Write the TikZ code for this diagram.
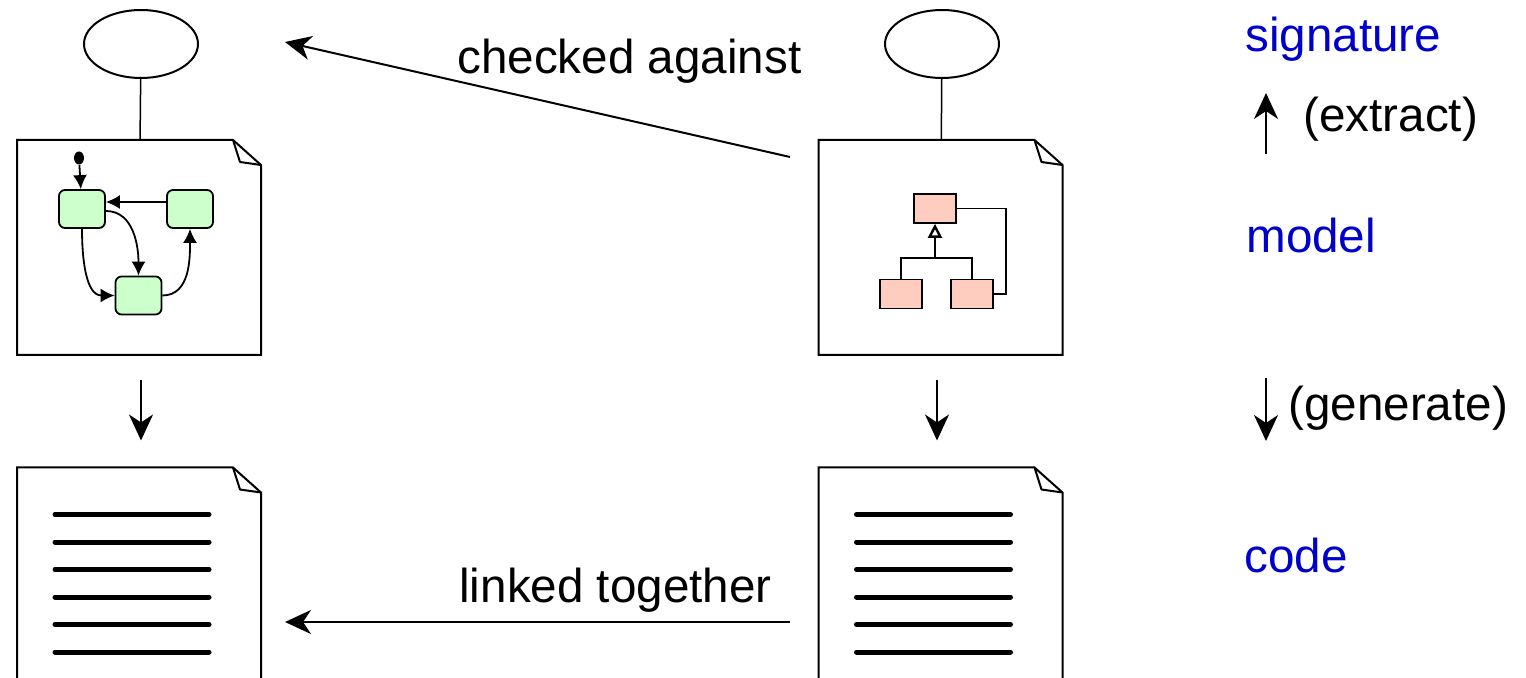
\documentclass[tikz,border=0pt]{standalone}
\usepackage{fontspec}
\setmainfont{Liberation Sans}
\usetikzlibrary{shapes.geometric, arrows.meta, positioning, calc}
\definecolor{stategreen}{RGB}{204,255,204}
\definecolor{classpink}{RGB}{255,204,192}
\definecolor{layerblue}{RGB}{0,0,204}
\tikzstyle{arrow} = [line width=1pt, -{Stealth[length=13pt, width=12pt, inset=4pt]}]
\tikzstyle{page} = [rectangle, minimum width=122pt, minimum height=107.5pt, inner sep=0pt, outer sep=0pt]

% sheet of paper with a dog-eared corner, drawn round a page node
\newcommand{\pageoutline}[1]{%
  \draw[line width=1pt, fill=white] (#1.south west) -- (#1.north west)
    -- ([xshift=-14pt]#1.north east) -- ([yshift=-12.5pt]#1.north east)
    -- (#1.south east) -- cycle;
  \draw[line width=1pt, line join=round] ([xshift=-14pt]#1.north east)
    -- ([xshift=-10.5pt, yshift=-11pt]#1.north east) -- ([yshift=-12.5pt]#1.north east);
}

\begin{document}
\begin{tikzpicture}
	[x=0.5pt, y=-0.5pt,
	lbl/.style={font=\fontsize{23.8}{28.5}\selectfont, inner sep=0pt},
	layer/.style={lbl, text=layerblue},
	sig/.style={ellipse, draw, line width=1pt, minimum width=57pt, minimum height=34pt},
	state/.style={rectangle, rounded corners=3pt, draw, line width=0.9pt, fill=stategreen,
		minimum width=23pt, minimum height=19pt, inner sep=0pt},
	class/.style={rectangle, draw, line width=0.9pt, fill=classpink,
		minimum width=21pt, minimum height=14.5pt, inner sep=0pt},
	trans/.style={line width=0.9pt, -{Latex[length=7pt, width=7pt]}},
	codeline/.style={line width=2.5pt, line cap=round}]
	\useasboundingbox (0,0) rectangle (1526,678);
	\clip (0,0) rectangle (1526,678);

	\node (sigL) [sig] at (141,44) {};
	\node (sigR) [sig] at (942,44) {};
	\node (mdlL) [page] at (139,247.5) {};
	\node (mdlR) [page] at (940.5,247.5) {};
	\node (codeL) [page] at (139,575) {};
	\node (codeR) [page] at (940.5,575) {};
	\pageoutline{mdlL}
	\pageoutline{mdlR}
	\pageoutline{codeL}
	\pageoutline{codeR}

	\draw[line width=0.75pt] (sigL) -- (mdlL);
	\draw[line width=0.75pt] (sigR) -- (mdlR);

	% statechart
	\node (ini) [ellipse, fill, inner sep=0pt, minimum width=5pt, minimum height=6.5pt] at (79,158) {};
	\node (s1) [state] at (82,209) {};
	\node (s2) [state] at (190,209) {};
	\node (s3) [state] at (138.5,295.5) {};
	\draw[trans] (ini) -- (s1);
	\draw[trans] ([yshift=3.5pt]s2.west) -- ([yshift=3.5pt]s1.east);
	\draw[trans] ([yshift=-1pt]s1.east) to[out=0, in=90] (s3.north);
	\draw[trans] (s1.south) to[out=-90, in=180] (s3.west);
	\draw[trans] (s3.east) to[out=0, in=-90] (s2.south);

	% class diagram
	\node (c0) [class] at (935,208.5) {};
	\node (c1) [class] at (901,294) {};
	\node (c2) [class] at (972,294) {};
	\coordinate (fork) at (935,258);
	\draw[line width=0.9pt] (c1.north) |- (fork) -| (c2.north);
	\draw[line width=1.2pt, -{Triangle[open, length=7pt, width=7pt]}] (fork) -- (c0.south);
	\draw[line width=0.9pt] (c0.east) -- ++(49,0) |- (c2.east);

	\foreach \pg in {codeL, codeR}
		\foreach \k in {0,...,5}
			\draw[codeline] ([xshift=19pt, yshift={-23.5pt-13.75pt*\k}]\pg.north west) -- ++(154,0);

	\draw[arrow] ([xshift=1pt, yshift=-12.5pt]mdlL.south) -- ([xshift=1pt, yshift=13.5pt]codeL.north);
	\draw[arrow] ([xshift=-1.75pt, yshift=-12.5pt]mdlR.south) -- ([xshift=-1.75pt, yshift=13.5pt]codeR.north);

	\draw[arrow] ([xshift=-14.25pt, yshift=-8.5pt]mdlR.north west) -- ([xshift=12pt, yshift=49pt]mdlL.north east);
	\draw[arrow] ([xshift=-14.25pt, yshift=-77.25pt]codeR.north west) -- ([xshift=12pt, yshift=-77.25pt]codeL.north east);
	\node (chk) [lbl, anchor=base west] at (457,74) {checked against};
	\node (lnk) [lbl, anchor=base west] at (459,602) {linked together};

	\node (sigTxt) [layer, anchor=base west] at (1245,52) {signature};
	\node (extTxt) [lbl, anchor=base west] at (1303,132) {(extract)};
	\node (mdlTxt) [layer, anchor=base west] at (1246,253) {model};
	\node (genTxt) [lbl, anchor=base west] at (1288,421) {(generate)};
	\node (codeTxt) [layer, anchor=base west] at (1244,572) {code};
	\coordinate (ext0) at (1266,154);
	\coordinate (ext1) at (1266,93);
	\coordinate (gen0) at (1266,378);
	\coordinate (gen1) at (1266,441);
	\draw[arrow] (ext0) -- (ext1);
	\draw[arrow] (gen0) -- (gen1);
\end{tikzpicture}
\end{document}
